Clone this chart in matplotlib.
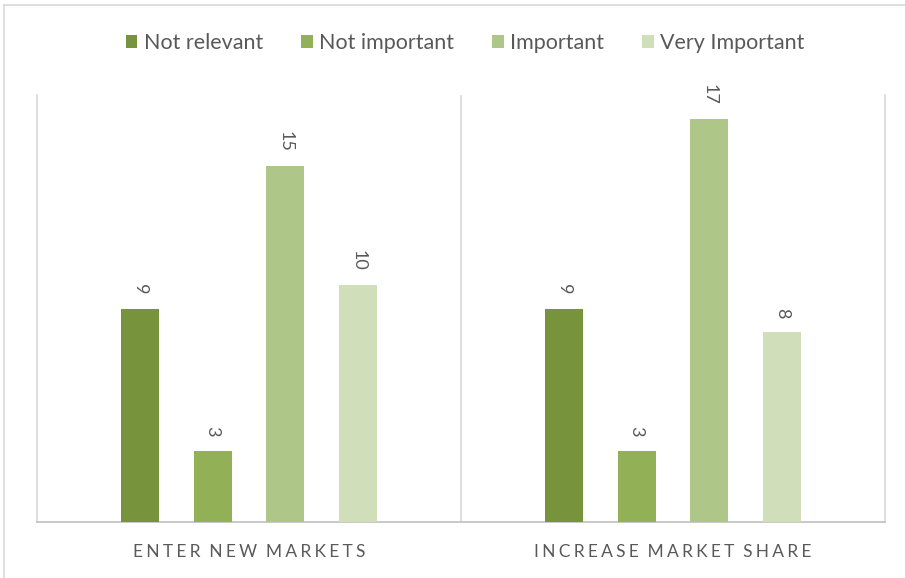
import matplotlib

matplotlib.use("Agg")
import matplotlib.pyplot as plt
from matplotlib.lines import Line2D
import numpy as np

plt.rcParams["font.family"] = ["Lato", "DejaVu Sans"]

categories = ["ENTER NEW MARKETS", "INCREASE MARKET SHARE"]
series = ["Not relevant", "Not important", "Important", "Very Important"]
not_relevant = [9, 9]
not_important = [3, 3]
important = [15, 17]
very_important = [10, 8]

colors = ["#77933C", "#92B055", "#AEC687", "#D0DEBA"]
text_col = "#595959"


def spaced(s):
    # spread the letters out, wider gap between words
    return "\u2009\u2009 ".join("\u2009\u200a".join(w) for w in s.split(" "))


fig = plt.figure(figsize=(9.05, 5.78), dpi=100)
ax = fig.add_axes([37 / 905, 56 / 578, 848 / 905, 427 / 578])

xs = np.arange(len(categories))
step = 0.1715
width = 0.0896
values = [not_relevant, not_important, important, very_important]
for i, (name, vals) in enumerate(zip(series, values)):
    pos = xs + (i - 1.5) * step
    bars = ax.bar(pos, vals, width=width, color=colors[i], label=name, zorder=3)
    for b, v in zip(bars, vals):
        ax.annotate(f"{v}", (b.get_x() + b.get_width() / 2, v),
                    xytext=(0, 10), textcoords="offset points",
                    ha="center", va="bottom", rotation=270,
                    fontsize=13, color=text_col)

ax.set_xlim(-0.5, 1.5)
ax.set_ylim(0, 18)
ax.set_yticks([])
ax.set_xticks(xs)
ax.set_xticklabels([spaced(c) for c in categories], fontsize=12.5, color=text_col)
ax.tick_params(axis="x", length=0, pad=16)
ax.axvline(0.5, color="#D9D9D9", lw=1.2, zorder=1)
for side in ["left", "right"]:
    ax.spines[side].set_color("#D9D9D9")
    ax.spines[side].set_linewidth(1.2)
ax.spines["bottom"].set_color("#BFBFBF")
ax.spines["bottom"].set_linewidth(1.2)
ax.spines["top"].set_visible(False)

ax.legend(loc="center", bbox_to_anchor=(465 / 905, 1 - 43 / 578),
          bbox_transform=fig.transFigure, ncol=4, frameon=False,
          fontsize=15.5, handlelength=0.55, handleheight=0.55,
          handletextpad=0.3, columnspacing=1.75, labelcolor=text_col)

# chart area border
fig.add_artist(Line2D([4 / 905, 1], [1 - 5 / 578] * 2, transform=fig.transFigure,
                      color="#D9D9D9", lw=1.2))
fig.add_artist(Line2D([4 / 905] * 2, [0, 1 - 5 / 578], transform=fig.transFigure,
                      color="#D9D9D9", lw=1.2))

fig.savefig("out.png", dpi=100)
